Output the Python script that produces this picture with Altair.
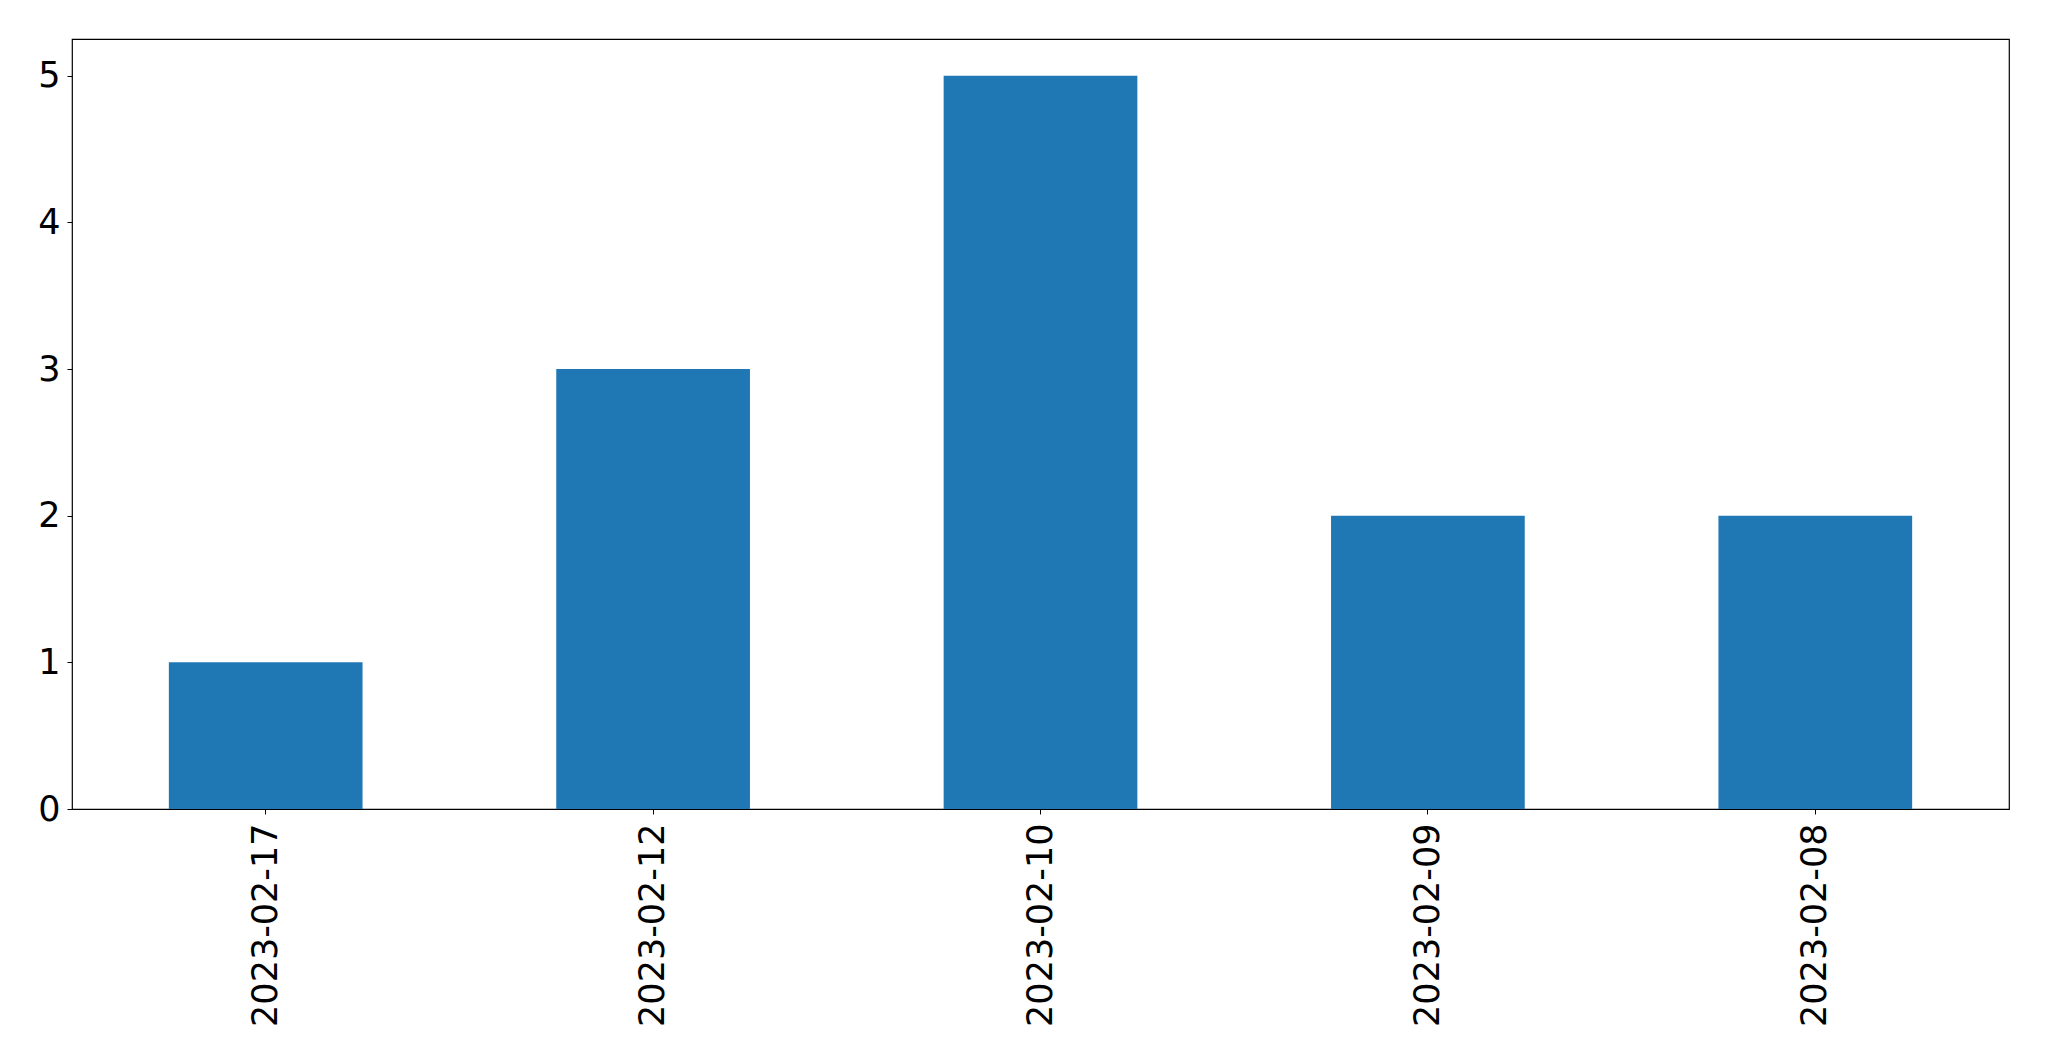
import altair as alt
import pandas as pd

dates = ["2023-02-17", "2023-02-12", "2023-02-10", "2023-02-09", "2023-02-08"]
counts = [1, 3, 5, 2, 2]
y_ticks = [0, 1, 2, 3, 4, 5]

df = pd.DataFrame({"date": dates, "count": counts})

chart = (
    alt.Chart(df)
    .mark_bar(color="#1f77b4")
    .encode(
        x=alt.X(
            "date:N",
            sort=dates,
            title=None,
            scale=alt.Scale(paddingInner=0.5, paddingOuter=0.25),
            axis=alt.Axis(
                labelAngle=-90,
                labelFontSize=35,
                labelFont="DejaVu Sans",
                labelColor="black",
                labelPadding=9,
                labelLimit=0,
                tickColor="black",
                tickSize=5,
                domain=False,
                grid=False,
            ),
        ),
        y=alt.Y(
            "count:Q",
            title=None,
            scale=alt.Scale(domain=[0, 5.25], nice=False),
            axis=alt.Axis(
                values=y_ticks,
                format="d",
                labelFontSize=35,
                labelFont="DejaVu Sans",
                labelColor="black",
                labelPadding=7,
                tickColor="black",
                tickSize=5,
                domain=False,
                grid=False,
            ),
        ),
    )
    .properties(
        width=1937,
        height=770,
        autosize=alt.AutoSizeParams(type="none"),
        padding={"left": 64, "top": 31, "right": 30, "bottom": 240},
    )
    .configure_view(stroke="black", strokeWidth=1.2)
)

chart.save("out.html", embed_options={"renderer": "svg", "actions": False})
